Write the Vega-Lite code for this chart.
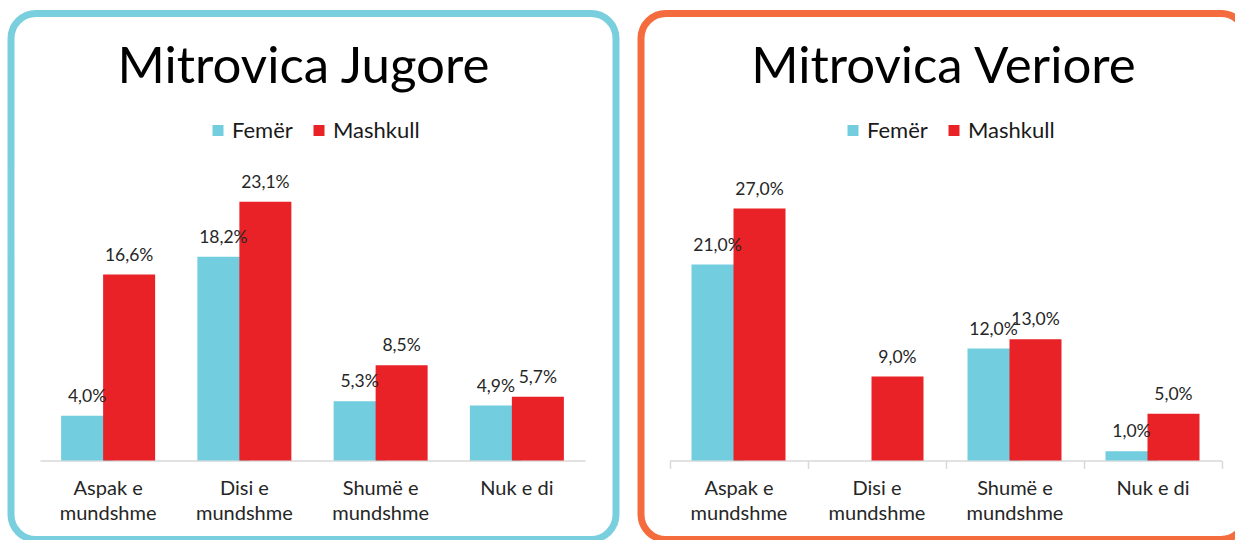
{
  "$schema": "https://vega.github.io/schema/vega-lite/v6.json",
  "padding": {"left": 7, "top": 9.5, "right": 0, "bottom": 0},
  "spacing": 17,
  "background": "white",
  "config": {
    "locale": {"number": {"decimal": ",", "thousands": ".", "grouping": [3], "currency": ["", " €"]}},
    "font": "Lato",
    "title": {"font": "Lato", "fontSize": 51, "fontWeight": "normal", "color": "#000000", "anchor": "middle", "frame": "group"},
    "legend": {"labelFont": "Lato", "labelFontSize": 22, "labelColor": "#1a1a1a", "symbolType": "square", "symbolSize": 121, "symbolStrokeWidth": 0, "columnPadding": 15, "labelOffset": 3, "title": null, "orient": "none", "direction": "horizontal"},
    "axisX": {"labelFont": "Lato", "labelFontSize": 20, "labelColor": "#262626", "labelLineHeight": 25, "labelBaseline": "top", "labelPadding": 10, "title": null, "domainColor": "#d9d9d9", "domainWidth": 1.5, "tickColor": "#d9d9d9", "tickWidth": 1.5, "labelAngle": 0, "grid": false}
  },
  "resolve": {"legend": {"color": "independent"}, "scale": {"x": "independent", "y": "independent"}},
  "datasets": {
    "jugore": [
      {"kategoria": "Aspak e mundshme", "gjinia": "Femër", "vlera": 0.040},
      {"kategoria": "Disi e mundshme", "gjinia": "Femër", "vlera": 0.182},
      {"kategoria": "Shumë e mundshme", "gjinia": "Femër", "vlera": 0.053},
      {"kategoria": "Nuk e di", "gjinia": "Femër", "vlera": 0.049},
      {"kategoria": "Aspak e mundshme", "gjinia": "Mashkull", "vlera": 0.166},
      {"kategoria": "Disi e mundshme", "gjinia": "Mashkull", "vlera": 0.231},
      {"kategoria": "Shumë e mundshme", "gjinia": "Mashkull", "vlera": 0.085},
      {"kategoria": "Nuk e di", "gjinia": "Mashkull", "vlera": 0.057}
    ],
    "veriore": [
      {"kategoria": "Aspak e mundshme", "gjinia": "Femër", "vlera": 0.21},
      {"kategoria": "Disi e mundshme", "gjinia": "Femër", "vlera": 0.0},
      {"kategoria": "Shumë e mundshme", "gjinia": "Femër", "vlera": 0.12},
      {"kategoria": "Nuk e di", "gjinia": "Femër", "vlera": 0.01},
      {"kategoria": "Aspak e mundshme", "gjinia": "Mashkull", "vlera": 0.27},
      {"kategoria": "Disi e mundshme", "gjinia": "Mashkull", "vlera": 0.09},
      {"kategoria": "Shumë e mundshme", "gjinia": "Mashkull", "vlera": 0.13},
      {"kategoria": "Nuk e di", "gjinia": "Mashkull", "vlera": 0.05}
    ]
  },
  "hconcat": [
    {
      "width": 605,
      "height": 526,
      "view": {"stroke": "#7ACFDF", "strokeWidth": 7, "cornerRadius": 25, "fill": "white"},
      "title": {"text": "Mitrovica Jugore", "offset": -80, "dx": -10},
      "data": {"name": "jugore"},
      "layer": [
        {
          "mark": {"type": "bar", "width": 52, "xOffset": {"expr": "datum.gjinia === 'Femër' ? -21 : 21"}},
          "encoding": {
            "x": {"field": "kategoria", "type": "nominal", "sort": null,
                  "scale": {"range": [29, 574], "paddingInner": 0, "paddingOuter": 0},
                  "axis": {"offset": -79, "ticks": false, "labelLineHeight": 25, "labelPadding": 18,
                           "labelExpr": "datum.label === 'Nuk e di' ? datum.label : split(replace(datum.label, ' e ', ' e|'), '|')"}},
            "y": {"field": "vlera", "type": "quantitative", "stack": null, "scale": {"domain": [0, 0.25], "range": [447, 167], "nice": false}, "axis": null},
            "color": {"field": "gjinia", "type": "nominal", "sort": ["Femër", "Mashkull"],
                      "scale": {"domain": ["Femër", "Mashkull"], "range": ["#72CDDF", "#E82226"]},
                      "legend": {"legendX": 196, "legendY": 106}}
          }
        },
        {
          "transform": [{"filter": "datum.vlera > 0"}],
          "mark": {"type": "text", "xOffset": {"expr": "datum.gjinia === 'Femër' ? -21 : 21"}, "dy": -10, "baseline": "bottom", "fontSize": 17.5, "color": "#262626", "font": "Lato"},
          "encoding": {
            "x": {"field": "kategoria", "type": "nominal", "sort": null},
            "y": {"field": "vlera", "type": "quantitative", "stack": null},
            "text": {"field": "vlera", "type": "quantitative", "format": ".1%"}
          }
        }
      ]
    },
    {
      "width": 605,
      "height": 526,
      "view": {"stroke": "#F46B3E", "strokeWidth": 7, "cornerRadius": 25, "fill": "white"},
      "title": {"text": "Mitrovica Veriore", "offset": -80},
      "data": {"name": "veriore"},
      "layer": [
        {
          "mark": {"type": "bar", "width": 52, "xOffset": {"expr": "datum.gjinia === 'Femër' ? -21 : 21"}},
          "encoding": {
            "x": {"field": "kategoria", "type": "nominal", "sort": null,
                  "scale": {"range": [28.5, 580.5], "paddingInner": 0, "paddingOuter": 0},
                  "axis": {"offset": -79, "ticks": true, "tickBand": "extent", "tickSize": 8, "labelLineHeight": 25,
                           "labelExpr": "datum.label === 'Nuk e di' ? datum.label : split(replace(datum.label, ' e ', ' e|'), '|')"}},
            "y": {"field": "vlera", "type": "quantitative", "stack": null, "scale": {"domain": [0, 0.30], "range": [447, 167], "nice": false}, "axis": null},
            "color": {"field": "gjinia", "type": "nominal", "sort": ["Femër", "Mashkull"],
                      "scale": {"domain": ["Femër", "Mashkull"], "range": ["#72CDDF", "#E82226"]},
                      "legend": {"legendX": 201, "legendY": 106}}
          }
        },
        {
          "transform": [{"filter": "datum.vlera > 0"}],
          "mark": {"type": "text", "xOffset": {"expr": "datum.gjinia === 'Femër' ? -21 : 21"}, "dy": -10, "baseline": "bottom", "fontSize": 17.5, "color": "#262626", "font": "Lato"},
          "encoding": {
            "x": {"field": "kategoria", "type": "nominal", "sort": null},
            "y": {"field": "vlera", "type": "quantitative", "stack": null},
            "text": {"field": "vlera", "type": "quantitative", "format": ".1%"}
          }
        }
      ]
    }
  ]
}
